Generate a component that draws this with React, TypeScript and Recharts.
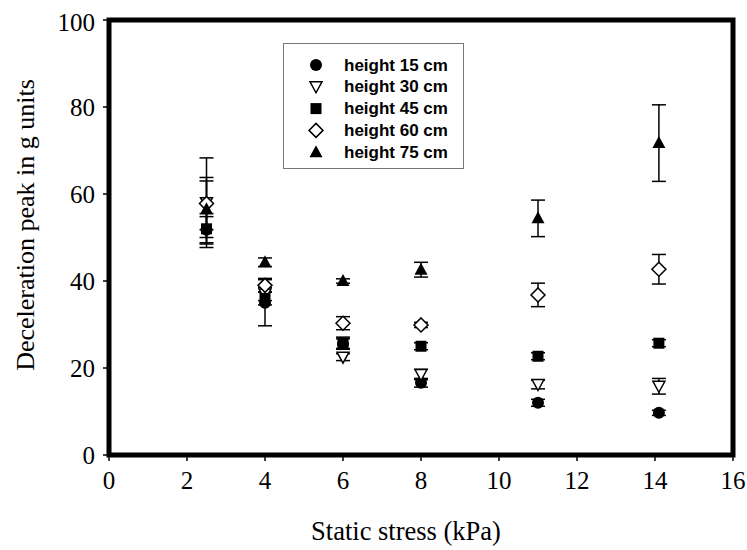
import React from 'react';
import { ScatterChart, Scatter, XAxis, YAxis, ErrorBar, ReferenceArea, Legend } from 'recharts';

const stress = [2.5, 4, 6, 8, 11, 14.1];
const h15 = [51.8, 35.0, 25.5, 16.6, 12.0, 9.7];
const e15 = [3.0, 5.3, 1.2, 1.0, 0.8, 0.6];
const h30 = [58.0, 37.0, 22.5, 18.5, 16.2, 15.8];
const e30 = [10.3, 1.5, 0.8, 1.2, 1.0, 1.8];
const h45 = [52.0, 36.0, 25.8, 25.0, 22.7, 25.7];
const e45 = [3.5, 1.5, 1.3, 0.8, 0.8, 0.8];
const h60 = [57.8, 39.0, 30.3, 29.9, 36.8, 42.7];
const e60 = [6.0, 1.6, 1.5, 0.6, 2.7, 3.4];
const h75 = [56.5, 44.3, 40.0, 42.6, 54.4, 71.7];
const e75 = [6.5, 1.0, 0.5, 1.7, 4.2, 8.8];

const xTicks = [0, 2, 4, 6, 8, 10, 12, 14, 16];
const yTicks = [0, 20, 40, 60, 80, 100];

const seriesNames = ['height 15 cm', 'height 30 cm', 'height 45 cm', 'height 60 cm', 'height 75 cm'];
const seriesKinds = ['circle', 'triDown', 'square', 'diamond', 'triUp'];

const build = (vals: number[], errs: number[]) => stress.map((x, i) => ({ x, y: vals[i], err: errs[i] }));
const seriesData = [build(h15, e15), build(h30, e30), build(h45, e45), build(h60, e60), build(h75, e75)];

const SERIF = 'Liberation Serif';
const SANS = 'Liberation Sans';

function Marker({ kind, cx, cy }: { kind: string; cx: number; cy: number }) {
  switch (kind) {
    case 'circle':
      return <circle cx={cx} cy={cy} r={6} fill="#000" />;
    case 'triDown':
      return <path d={`M${cx - 6},${cy - 5} L${cx + 6},${cy - 5} L${cx},${cy + 6} Z`} fill="#fff" stroke="#000" strokeWidth={1.5} />;
    case 'square':
      return <rect x={cx - 5.5} y={cy - 5.5} width={11} height={11} fill="#000" />;
    case 'diamond':
      return <path d={`M${cx},${cy - 7} L${cx + 7},${cy} L${cx},${cy + 7} L${cx - 7},${cy} Z`} fill="#fff" stroke="#000" strokeWidth={1.5} />;
    default:
      return <path d={`M${cx},${cy - 7} L${cx + 6.5},${cy + 5} L${cx - 6.5},${cy + 5} Z`} fill="#000" />;
  }
}

const makeShape = (kind: string) => (props: any) => <Marker kind={kind} cx={props.cx} cy={props.cy} />;

function LegendBox() {
  return (
    <svg width={181} height={126} style={{ display: 'block' }}>
      <rect x={0.5} y={0.5} width={180} height={125} fill="#fff" stroke="#777" strokeWidth={1} />
      {seriesNames.map((name, i) => {
        const cy = 22 + i * 21.8;
        return (
          <g key={name}>
            <Marker kind={seriesKinds[i]} cx={33} cy={cy} />
            <text x={61} y={cy} dominantBaseline="central" style={{ fontFamily: SANS, fontWeight: 'bold', fontSize: 17 }} fill="#000">
              {name}
            </text>
          </g>
        );
      })}
    </svg>
  );
}

const tickStyle = { fill: '#000', fontSize: 25, fontFamily: SERIF };

export default function App() {
  return (
    <div style={{ position: 'fixed', left: 8, top: 8, width: 739, height: 542, background: '#fff' }}>
      <ScatterChart width={739} height={542} margin={{ top: 12, right: 14, bottom: 0, left: 0 }} style={{ overflow: 'visible', fontFamily: SERIF }}>
        <XAxis
          type="number"
          dataKey="x"
          domain={[0, 16]}
          ticks={xTicks}
          axisLine={false}
          tickLine={{ stroke: '#000', strokeWidth: 1.5 }}
          tickSize={6}
          tickMargin={10}
          tick={tickStyle}
          height={95}
          label={{
            content: () => (
              <text x={398} y={532} textAnchor="middle" style={{ fontFamily: SERIF, fontSize: 26.5 }} fill="#000">
                Static stress (kPa)
              </text>
            ),
          }}
        />
        <YAxis
          type="number"
          dataKey="y"
          domain={[0, 100]}
          ticks={yTicks}
          axisLine={false}
          tickLine={{ stroke: '#000', strokeWidth: 1.5 }}
          tickSize={6}
          tickMargin={8}
          tick={tickStyle}
          width={101}
          label={{
            content: () => (
              <text x={17} y={217} transform="rotate(-90 17 217)" textAnchor="middle" dominantBaseline="central" style={{ fontFamily: SERIF, fontSize: 26 }} fill="#000">
                Deceleration peak in g units
              </text>
            ),
          }}
        />
        <ReferenceArea x1={0} x2={16} y1={0} y2={100} fill="none" stroke="#000" strokeWidth={5} fillOpacity={0} />
        {seriesData.map((d, i) => (
          <Scatter key={seriesNames[i]} name={seriesNames[i]} data={d} isAnimationActive={false} shape={makeShape(seriesKinds[i])}>
            <ErrorBar dataKey="err" direction="y" width={7} stroke="#000" strokeWidth={1.5} />
          </Scatter>
        ))}
        <Legend
          layout="vertical"
          align="center"
          verticalAlign="middle"
          wrapperStyle={{ position: 'absolute', left: 275, top: 35, width: 181, height: 126 }}
          content={() => <LegendBox />}
        />
      </ScatterChart>
    </div>
  );
}
